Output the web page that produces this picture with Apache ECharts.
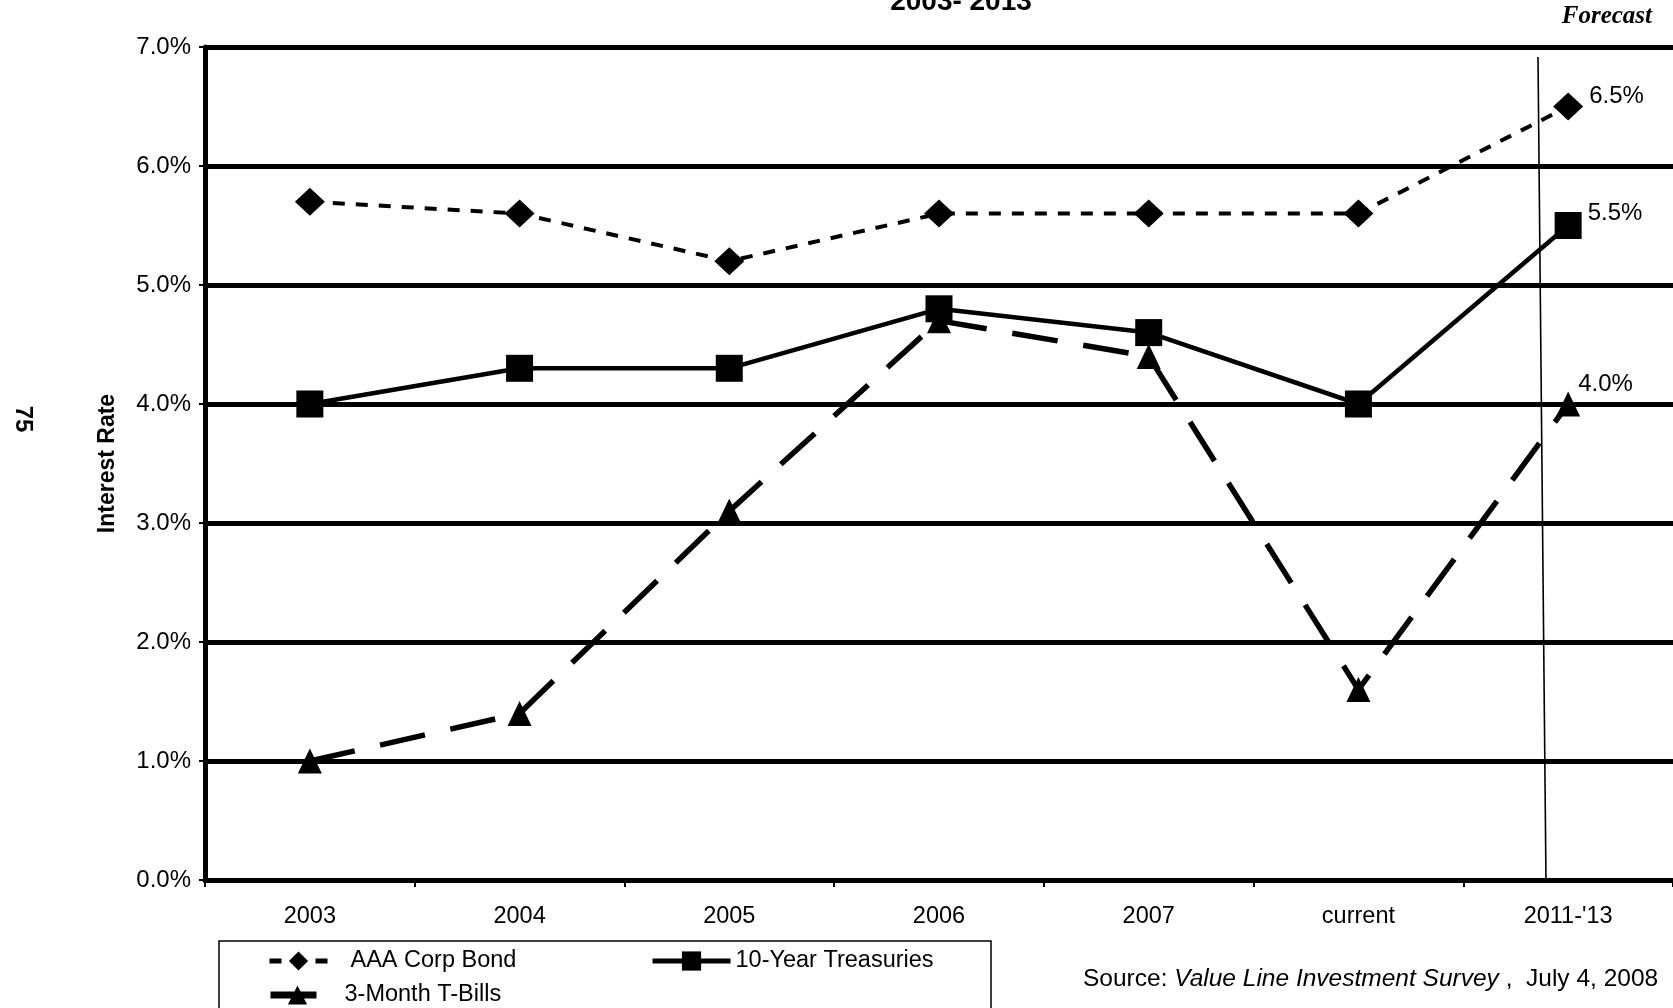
<!DOCTYPE html>
<html>
<head>
<meta charset="utf-8">
<script src="https://cdn.jsdelivr.net/npm/echarts@6/dist/echarts.min.js"></script>
<style>
  html, body { margin: 0; padding: 0; background: #fff; }
  #chart { width: 1673px; height: 1008px; }
</style>
</head>
<body>
<div id="chart"></div>
<script>
// Interest rates 2003-2013 (Value Line forecast for 2011-'13)
const categories = ['2003', '2004', '2005', '2006', '2007', 'current', "2011-'13"];
const aaaCorpBond = [5.7, 5.6, 5.2, 5.6, 5.6, 5.6, 6.5];
const tenYearTreasuries = [4.0, 4.3, 4.3, 4.8, 4.6, 4.0, 5.5];
const threeMonthTBills = [1.0, 1.4, 3.1, 4.7, 4.4, 1.6, 4.0];
const yTicks = [0, 1, 2, 3, 4, 5, 6, 7];

const FONT = "'Liberation Sans', Arial, sans-serif";

// Put a value label on the final (forecast) point only
function withEndLabel(values, offset) {
  return values.map((v, i) => i === values.length - 1
    ? { value: v, label: { show: true, position: 'right', offset: offset, distance: 6,
        formatter: p => p.value.toFixed(1) + '%', color: '#000', fontSize: 24, fontFamily: FONT } }
    : v);
}

const chart = echarts.init(document.getElementById('chart'), null, { renderer: 'canvas' });

const legendBase = {
  orient: 'horizontal',
  selectedMode: false,
  itemHeight: 24,
  textStyle: { color: '#000', fontSize: 23.5, fontFamily: FONT }
};

chart.setOption({
  backgroundColor: '#fff',
  animation: false,
  grid: { left: 205, top: 47, width: 1470, height: 833, containLabel: false },
  xAxis: {
    type: 'category',
    data: categories,
    boundaryGap: true,
    axisLine: { lineStyle: { color: '#000', width: 5 } },
    axisTick: { show: true, length: 7, lineStyle: { color: '#000', width: 2 } },
    axisLabel: { color: '#000', fontSize: 23.5, fontFamily: FONT, margin: 25 },
    splitLine: { show: false }
  },
  yAxis: {
    type: 'value',
    min: yTicks[0],
    max: yTicks[yTicks.length - 1],
    interval: 1,
    name: 'Interest Rate',
    nameLocation: 'middle',
    nameGap: 86,
    nameTextStyle: { color: '#000', fontSize: 23, fontWeight: 'bold', fontFamily: FONT },
    axisLine: { show: true, lineStyle: { color: '#000', width: 5 } },
    axisTick: { show: true, length: 6, lineStyle: { color: '#000', width: 2 } },
    axisLabel: { color: '#000', fontSize: 24, fontFamily: FONT, margin: 14,
      formatter: v => v.toFixed(1) + '%' },
    splitLine: { show: true, lineStyle: { color: '#000', width: 5 } }
  },
  legend: [
    Object.assign({}, legendBase, { data: ['AAA Corp Bond'], left: 262, top: 944, itemWidth: 58,
      lineStyle: { width: 5 },
      textStyle: Object.assign({}, legendBase.textStyle, { padding: [0, 0, 0, 18] }) }),
    Object.assign({}, legendBase, { data: ['10-Year Treasuries'], left: 645, top: 944, itemWidth: 78,
      lineStyle: { width: 5 } }),
    Object.assign({}, legendBase, { data: ['3-Month T-Bills'], left: 262, top: 978, itemWidth: 54,
      lineStyle: { width: 7 },
      textStyle: Object.assign({}, legendBase.textStyle, { padding: [0, 0, 0, 15] }) })
  ],
  series: [
    {
      name: 'AAA Corp Bond',
      type: 'line',
      data: withEndLabel(aaaCorpBond, [0, -10]),
      symbol: 'diamond',
      symbolSize: [30, 28],
      itemStyle: { color: '#000' },
      lineStyle: { color: '#000', width: 4, type: [12, 11] },
      z: 4
    },
    {
      name: '10-Year Treasuries',
      type: 'line',
      data: withEndLabel(tenYearTreasuries, [0, -12]),
      symbol: 'rect',
      symbolSize: 27,
      itemStyle: { color: '#000' },
      lineStyle: { color: '#000', width: 4.5, type: 'solid' },
      z: 4
    },
    {
      name: '3-Month T-Bills',
      type: 'line',
      data: withEndLabel(threeMonthTBills, [-8, -20]),
      symbol: 'triangle',
      symbolSize: [24, 25],
      itemStyle: { color: '#000' },
      lineStyle: { color: '#000', width: 5.5, type: [46, 26] },
      z: 3
    }
  ],
  graphic: [
    // cropped chart subtitle
    { type: 'text', position: [961, 2], style: { text: '2003- 2013', fill: '#000',
        font: "bold 28px " + FONT, textAlign: 'center', textVerticalAlign: 'middle' }, z: 10 },
    // forecast divider
    { type: 'line', shape: { x1: 1538, y1: 57, x2: 1546, y2: 882 },
      style: { stroke: '#000', lineWidth: 1.6 }, z: 10 },
    { type: 'text', position: [1652, 17], style: { text: 'Forecast', fill: '#000',
        font: "italic bold 25px 'Liberation Serif', 'DejaVu Serif', serif",
        textAlign: 'right', textVerticalAlign: 'middle' }, z: 10 },
    // page number printed sideways
    { type: 'text', position: [23, 419], rotation: -Math.PI / 2, style: { text: '75', fill: '#000',
        font: "bold 24px " + FONT, textAlign: 'center', textVerticalAlign: 'middle' }, z: 10 },
    // legend frame
    { type: 'rect', shape: { x: 219, y: 941, width: 772, height: 80 },
      style: { fill: 'none', stroke: '#000', lineWidth: 1.5 }, z: 1 },
    // source note
    { type: 'text', position: [1083, 979], style: {
        rich: {
          n: { font: "24.5px " + FONT, fill: '#000' },
          i: { font: "italic 24.5px " + FONT, fill: '#000' }
        },
        text: '{n|Source: }{i|Value Line Investment Survey}{n| ,  July 4, 2008}',
        textVerticalAlign: 'middle' }, z: 10 }
  ]
});
</script>
</body>
</html>
